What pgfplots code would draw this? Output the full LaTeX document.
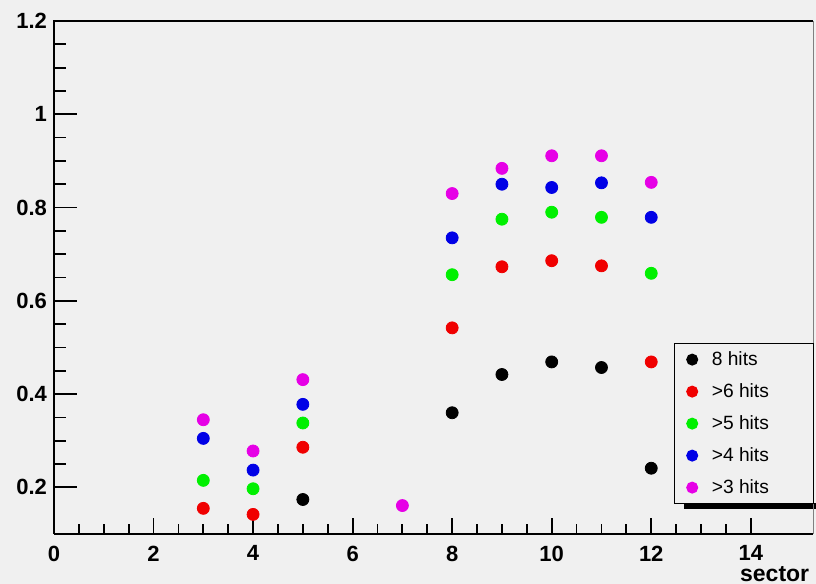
\documentclass[border=0pt]{standalone}
\usepackage{pgfplots}
\pgfplotsset{compat=1.18}
\usepackage{fontspec}
\setmainfont{Liberation Sans}
\definecolor{bg}{RGB}{240,240,240}
\definecolor{rred}{RGB}{240,0,0}
\definecolor{rgreen}{RGB}{0,240,0}
\definecolor{rblue}{RGB}{0,0,230}
\definecolor{rmag}{RGB}{230,0,230}
\begin{document}
\begin{tikzpicture}
\fill[bg] (0,0) rectangle (408pt,292pt);
\useasboundingbox (0,0) rectangle (408pt,292pt);
\begin{axis}[
  at={(27pt,25pt)}, anchor=south west, scale only axis,
  width=379.5pt, height=256.5pt,
  xmin=0, xmax=15.25, ymin=0.1, ymax=1.2,
  xtick={0,2,4,6,8,10,12,14},
  ytick={0.2,0.4,0.6,0.8,1,1.2},
  minor x tick num=3, minor y tick num=3,
  tick align=inside, tick pos=left,
  xtick style={/pgfplots/major tick length=8pt, /pgfplots/minor tick length=5pt, line width=0.9pt, black},
  ytick style={/pgfplots/major tick length=11.5pt, /pgfplots/minor tick length=6pt, line width=0.9pt, black},
  axis line style={draw=none},
  clip=false,
  tick label style={font=\bfseries\fontsize{11}{11}\selectfont},
  /pgf/number format/assume math mode=true,
  xticklabel style={yshift=-2.3pt},
  xlabel={sector},
  xlabel style={at={(rel axis cs:0.9955,0)}, anchor=base east, yshift=-24pt, inner sep=0pt, font=\bfseries\fontsize{11.5}{12}\selectfont},
  legend cell align=left,
  legend style={at={(rel axis cs:0.8169,0.3723)}, anchor=north west, draw=black, line width=0.6pt, fill=bg,
    font=\fontsize{9.6}{10}\selectfont, inner xsep=0pt, inner ysep=0pt, row sep=0pt,
    nodes={minimum height=16pt, inner xsep=1pt, inner ysep=0pt}},
  legend image code/.code={\path (0pt,0pt) (17pt,0pt); \draw[mark size=2.7pt, mark repeat=2,mark phase=2] plot coordinates {(0pt,0pt)(8.5pt,0pt)(17pt,0pt)};},
]
\fill[black] (rel axis cs:0.830,0.0487) rectangle (rel axis cs:1.02,0.0604);
\draw[line width=1pt, black] (rel axis cs:0,0) -- (rel axis cs:1,0);
\draw[line width=1pt, black] (rel axis cs:0,0) -- (rel axis cs:0,1) -- (rel axis cs:1,1);
\draw[line width=0.5pt, gray] (rel axis cs:1,0) -- (rel axis cs:1,1);

\addplot[only marks, mark=*, mark size=3pt, black, mark options={draw=black, fill=black}] coordinates {
(5,0.174) (8,0.360) (9,0.442) (10,0.469) (11,0.457) (12,0.241)};
\addlegendentry{\makebox[50pt][l]{8 hits}}
\addplot[only marks, mark=*, mark size=3pt, rred, mark options={draw=rred, fill=rred}] coordinates {
(3,0.155) (4,0.142) (5,0.286) (8,0.542) (9,0.673) (10,0.686) (11,0.675) (12,0.469)};
\addlegendentry{\makebox[50pt][l]{>6 hits}}
\addplot[only marks, mark=*, mark size=3pt, rgreen, mark options={draw=rgreen, fill=rgreen}] coordinates {
(3,0.215) (4,0.197) (5,0.338) (8,0.656) (9,0.775) (10,0.790) (11,0.779) (12,0.659)};
\addlegendentry{\makebox[50pt][l]{>5 hits}}
\addplot[only marks, mark=*, mark size=3pt, rblue, mark options={draw=rblue, fill=rblue}] coordinates {
(3,0.305) (4,0.237) (5,0.378) (8,0.735) (9,0.850) (10,0.843) (11,0.853) (12,0.779)};
\addlegendentry{\makebox[50pt][l]{>4 hits}}
\addplot[only marks, mark=*, mark size=3pt, rmag, mark options={draw=rmag, fill=rmag}] coordinates {
(3,0.345) (4,0.278) (5,0.431) (7,0.161) (8,0.830) (9,0.884) (10,0.911) (11,0.911) (12,0.854)};
\addlegendentry{\makebox[50pt][l]{>3 hits}}
\end{axis}
\end{tikzpicture}
\end{document}
